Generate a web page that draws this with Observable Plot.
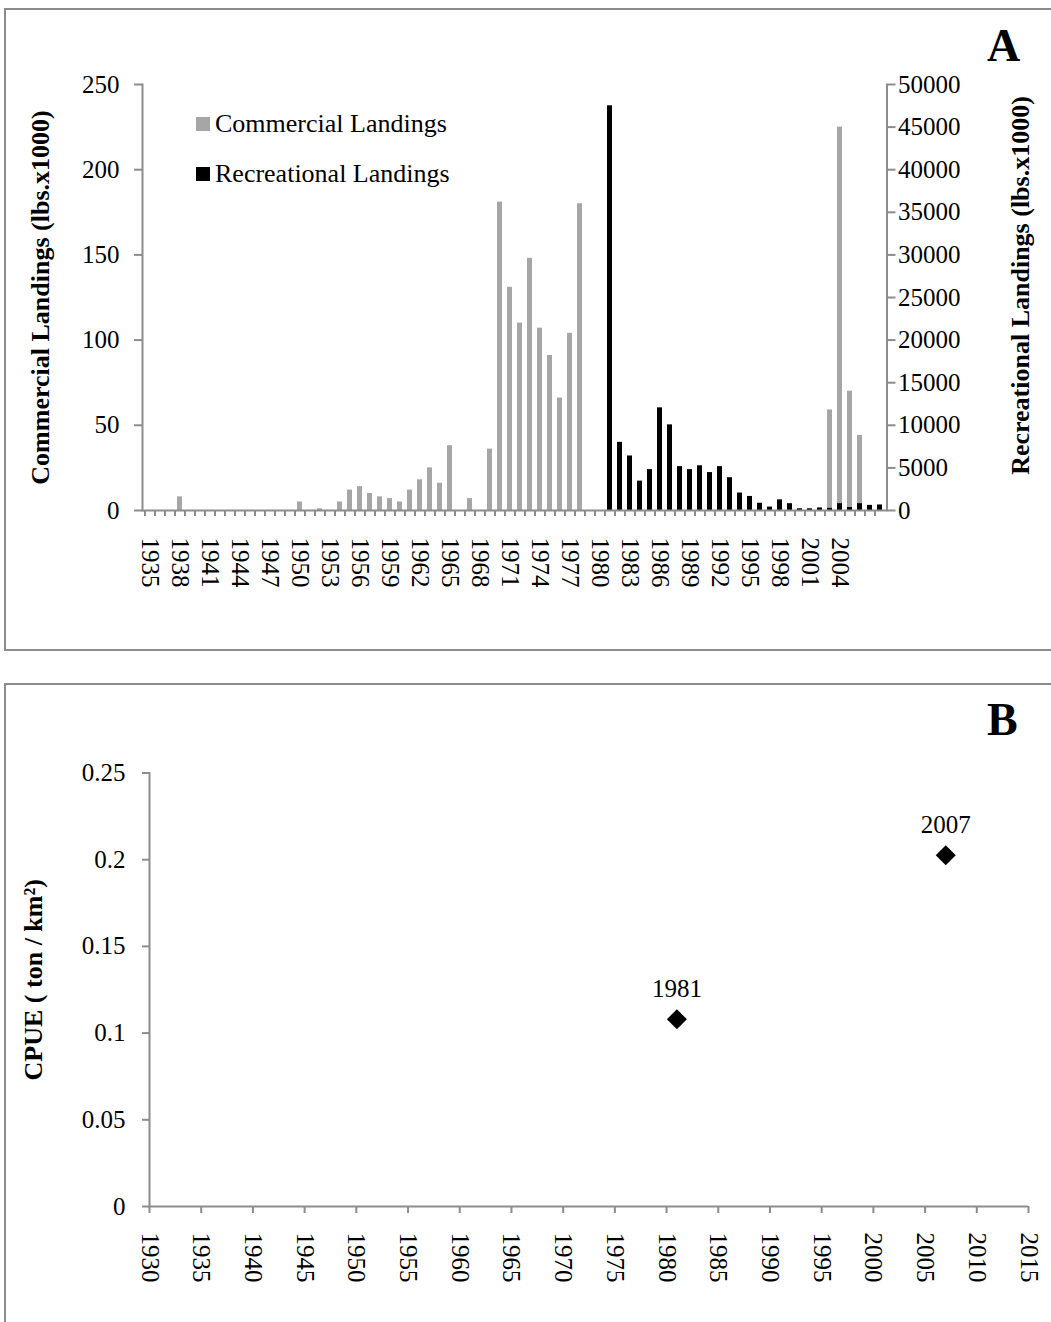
<!DOCTYPE html>
<html><head><meta charset="utf-8">
<script src="https://cdn.jsdelivr.net/npm/d3@7"></script>
<script src="https://cdn.jsdelivr.net/npm/@observablehq/plot@0.6"></script>
<style>
body{margin:0;background:#fff;}
#page{position:relative;width:1051px;height:1322px;overflow:hidden;font-family:"Liberation Serif","Times New Roman",serif;}
.frame{position:absolute;border:2px solid #8c8c8c;box-sizing:border-box;}
.abs{position:absolute;white-space:nowrap;line-height:1;}
#page svg{position:absolute;left:0;}
</style></head><body><div id="page"></div>
<script>
// ---- Panel A data ----
const years = d3.range(1935, 2009);
const commercial = [
  0, 0, 0, 8, 0, 0, 0, 0, 0, 0,        // 1935-1944
  0, 0, 0, 0, 0, 5, 0, 1, 0, 5,        // 1945-1954
  12, 14, 10, 8, 7, 5, 12, 18, 25, 16, // 1955-1964
  38, 0, 7, 0, 36, 181, 131, 110, 148, 107, // 1965-1974
  91, 66, 104, 180, 0, 0, 0, 0, 0, 0,  // 1975-1984
  0, 0, 0, 0, 0, 0, 0, 0, 0, 0,        // 1985-1994
  0, 0, 0, 0, 0, 0, 0, 0, 59, 225,     // 1995-2004
  70, 44, 0, 0                         // 2005-2008
];
const recreational = [
  0, 0, 0, 0, 0, 0, 0, 0, 0, 0,        // 1935-1944
  0, 0, 0, 0, 0, 0, 0, 0, 0, 0,        // 1945-1954
  0, 0, 0, 0, 0, 0, 0, 0, 0, 0,        // 1955-1964
  0, 0, 0, 0, 0, 0, 0, 0, 0, 0,        // 1965-1974
  0, 0, 0, 0, 0, 0, 47500, 8000, 6400, 3450, // 1975-1984
  4800, 12050, 10050, 5150, 4800, 5250, 4450, 5150, 3850, 2050, // 1985-1994
  1650, 850, 400, 1250, 800, 200, 200, 300, 250, 800, // 1995-2004
  350, 800, 600, 650                   // 2005-2008
];
const yearLabels = d3.range(1935, 2005, 3);
const leftTicks = [0, 50, 100, 150, 200, 250];
const rightTicks = [0, 5000, 10000, 15000, 20000, 25000, 30000, 35000, 40000, 45000, 50000];
const legendNames = ["Commercial Landings", "Recreational Landings"];
const legendColors = ["#a6a6a6", "#000000"];

// ---- Panel B data ----
const cpueYears = [1981, 2007];
const cpueValues = [0.108, 0.2025];
const cpueXTicks = d3.range(1930, 2016, 5);
const cpueYTicks = [0, 0.05, 0.1, 0.15, 0.2, 0.25];

const page = document.getElementById("page");
const axisGray = "#8c8c8c";
const font = "'Liberation Serif', 'Times New Roman', serif";

function addDiv(cls, css, text) {
  const d = document.createElement("div");
  d.className = cls; Object.assign(d.style, css);
  if (text != null) d.textContent = text;
  page.appendChild(d); return d;
}

// ---- Panel A ----
const rows = years.map((year, i) => ({year, com: commercial[i], rec: recreational[i]}));
const ratio = rightTicks[rightTicks.length - 1] / leftTicks[leftTicks.length - 1];
const mL = 142, mR = 164.5, W = 1051;
const step = (W - mL - mR) / years.length;

const A = Plot.plot({
  width: W, height: 640, marginTop: 84, marginBottom: 130, marginLeft: mL, marginRight: mR,
  style: {fontFamily: font, fontSize: "25px", background: "transparent", color: "black"},
  x: {type: "band", domain: years, paddingInner: 0.55, paddingOuter: 0.275},
  y: {domain: [0, 250]},
  marks: [
    Plot.barY(rows, {x: "year", y: "com", fill: legendColors[0]}),
    Plot.barY(rows, {x: "year", y: d => d.rec / ratio, fill: legendColors[1]}),
    Plot.ruleY([0], {stroke: axisGray, strokeWidth: 2}),
    Plot.frame({anchor: "left", stroke: axisGray, strokeWidth: 2}),
    Plot.frame({anchor: "right", stroke: axisGray, strokeWidth: 2}),
    Plot.axisY({anchor: "left", ticks: leftTicks, tickSize: 8, tickPadding: 15, stroke: axisGray, strokeWidth: 2, fill: "black", label: null, tickFormat: d => String(d)}),
    Plot.axisY({anchor: "right", ticks: rightTicks.map(v => v / ratio), tickSize: 8, tickPadding: 3, stroke: axisGray, strokeWidth: 2, fill: "black", label: null, tickFormat: v => String(Math.round(v * ratio))}),
    Plot.axisX({ticks: years, tickSize: 6, tickFormat: () => "", dx: -step / 2, stroke: axisGray, strokeWidth: 2, label: null}),
    Plot.axisX({ticks: yearLabels, tickSize: 0, tickRotate: 90, tickPadding: 27, fill: "black", label: null, tickFormat: d => String(d)}),
    Plot.text(["Commercial Landings (lbs.x1000)"], {text: d => d, frameAnchor: "left", textAnchor: "middle", dx: -102, rotate: -90, fontWeight: "bold", fontSize: 26, fill: "black"}),
    Plot.text(["Recreational Landings (lbs.x1000)"], {text: d => d, frameAnchor: "right", textAnchor: "middle", dx: 133.5, dy: -12, rotate: -90, fontWeight: "bold", fontSize: 26, fill: "black"})
  ]
});
A.style.top = "0px";
page.appendChild(A);
addDiv("frame", {left: "4px", top: "8px", width: "1100px", height: "643px"});

// legend A
legendNames.forEach((name, i) => {
  addDiv("abs", {left: "196px", top: (117 + i * 49.5) + "px", width: "14px", height: "14px", background: legendColors[i]});
  addDiv("abs", {left: "215px", top: (111 + i * 50) + "px", fontSize: "26px", fontFamily: font, color: "#000"}, name);
});
addDiv("abs", {left: "987px", top: "23px", fontSize: "46px", fontWeight: "bold", fontFamily: font}, "A");

// ---- Panel B ----
const pts = cpueYears.map((year, i) => ({year, value: cpueValues[i]}));
const B = Plot.plot({
  width: W, height: 639, marginTop: 89.5, marginBottom: 116, marginLeft: 149, marginRight: 23,
  style: {fontFamily: font, fontSize: "25px", background: "transparent", color: "black"},
  x: {domain: [1930, 2015]},
  y: {domain: [0, 0.25]},
  marks: [
    Plot.ruleY([0], {stroke: axisGray, strokeWidth: 2}),
    Plot.frame({anchor: "left", stroke: axisGray, strokeWidth: 2}),
    Plot.axisY({ticks: cpueYTicks, tickSize: 7, tickPadding: 17, stroke: axisGray, strokeWidth: 2, fill: "black", label: null, tickFormat: d => String(d)}),
    Plot.axisX({ticks: cpueXTicks, tickSize: 7, tickPadding: 19, tickRotate: 90, stroke: axisGray, strokeWidth: 2, fill: "black", label: null, tickFormat: d => String(d)}),
    Plot.dot(pts, {x: "year", y: "value", symbol: "diamond2", r: 9, fill: "black"}),
    Plot.text(pts, {x: "year", y: "value", text: d => String(d.year), dy: -22, lineAnchor: "bottom", fill: "black"}),
    Plot.text(["CPUE ( ton / km²)"], {text: d => d, frameAnchor: "left", textAnchor: "middle", dx: -116, dy: -10, rotate: -90, fontWeight: "bold", fontSize: 26, fill: "black"})
  ]
});
B.style.top = "683px";
page.appendChild(B);
addDiv("frame", {left: "4px", top: "683px", width: "1100px", height: "700px"});
addDiv("abs", {left: "987px", top: "697px", fontSize: "46px", fontWeight: "bold", fontFamily: font}, "B");
</script>
</body></html>
